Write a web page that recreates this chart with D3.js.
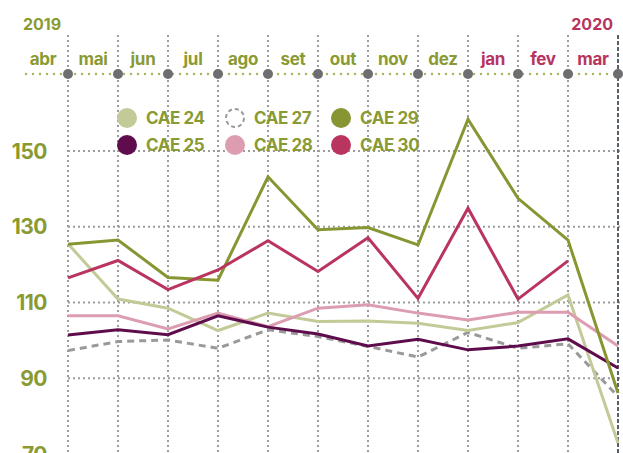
<!DOCTYPE html>
<html>
<head>
<meta charset="utf-8">
<script src="https://cdn.jsdelivr.net/npm/d3@7"></script>
<style>
  html, body { margin: 0; padding: 0; background: #fff; }
  svg { display: block; font-family: Inter, "Open Sans", sans-serif; font-weight: 700; }
</style>
</head>
<body>
<div id="chart"></div>
<script>
var months = ['abr', 'mai', 'jun', 'jul', 'ago', 'set', 'out', 'nov', 'dez', 'jan', 'fev', 'mar'];
var yTicks = [70, 90, 110, 130, 150];

var cae24 = [125.5, 110.9, 108.5, 102.6, 107.2, 105.0, 105.1, 104.5, 102.6, 104.7, 112.0, 72.9];
var cae25 = [101.4, 102.8, 101.5, 106.5, 103.5, 101.7, 98.5, 100.3, 97.5, 98.5, 100.4, 92.7];
var cae27 = [97.3, 99.7, 100.1, 97.9, 102.8, 101.0, 98.4, 95.6, 102.1, 97.9, 99.1, 85.2];
var cae28 = [106.5, 106.5, 103.0, 107.2, 103.6, 108.5, 109.4, 107.2, 105.4, 107.4, 107.4, 98.5];
var cae29 = [125.4, 126.5, 116.6, 115.9, 143.2, 129.2, 129.8, 125.2, 158.4, 137.5, 126.5, 86.1];
var cae30 = [116.5, 121.1, 113.4, 118.6, 126.3, 118.2, 127.1, 111.1, 134.9, 110.9, 121.0, null];

(function () {
  var W = 623, H = 453;
  var olive = '#8a9a33', crimson = '#b8345f', gridGrey = '#9c9c9c';

  var series = [
    { name: 'CAE 27', values: cae27, color: '#9a9a9a', dash: '7,5' },
    { name: 'CAE 24', values: cae24, color: '#c4ca97' },
    { name: 'CAE 28', values: cae28, color: '#dd9db0' },
    { name: 'CAE 25', values: cae25, color: '#5f0c4c' },
    { name: 'CAE 29', values: cae29, color: '#879633' },
    { name: 'CAE 30', values: cae30, color: '#b9345f' }
  ];
  var byName = {};
  series.forEach(function (s) { byName[s.name] = s; });

  var svg = d3.select('#chart').append('svg')
    .attr('width', W).attr('height', H);

  var x = d3.scalePoint().domain(months).range([68, 618]);
  var y = d3.scaleLinear().domain([70, 150]).range([454, 151]);

  // horizontal grid
  svg.append('g').selectAll('line')
    .data(yTicks)
    .enter().append('line')
    .attr('x1', 68).attr('x2', W)
    .attr('y1', function (d) { return y(d); })
    .attr('y2', function (d) { return y(d); })
    .attr('stroke', gridGrey).attr('stroke-width', 2)
    .attr('stroke-dasharray', '2,3');

  // vertical grid (last one darker)
  svg.append('g').selectAll('line')
    .data(months)
    .enter().append('line')
    .attr('x1', function (d) { return x(d); })
    .attr('x2', function (d) { return x(d); })
    .attr('y1', 35).attr('y2', H)
    .attr('stroke', function (d, i) { return i === months.length - 1 ? '#55606b' : gridGrey; })
    .attr('stroke-width', 2)
    .attr('stroke-dasharray', function (d, i) { return i === months.length - 1 ? '4,2' : '2,3'; });

  // y labels
  svg.append('g').selectAll('text')
    .data(yTicks)
    .enter().append('text')
    .attr('x', 47)
    .attr('y', function (d) { return y(d); })
    .attr('dy', '0.36em')
    .attr('text-anchor', 'end')
    .attr('fill', olive)
    .style('font-size', '21px')
    .style('letter-spacing', '-0.5px')
    .text(function (d) { return d; });

  // timeline header
  svg.append('line')
    .attr('x1', 26).attr('x2', W)
    .attr('y1', 74).attr('y2', 74)
    .attr('stroke', '#aab55f').attr('stroke-width', 2.5)
    .attr('stroke-linecap', 'round')
    .attr('stroke-dasharray', '0,7');

  svg.append('g').selectAll('circle')
    .data(months)
    .enter().append('circle')
    .attr('cx', function (d) { return x(d); })
    .attr('cy', 74)
    .attr('r', 5)
    .attr('fill', '#6e6e70');

  svg.append('g').selectAll('text')
    .data(months)
    .enter().append('text')
    .attr('x', function (d) { return x(d) - 25; })
    .attr('y', 65)
    .attr('text-anchor', 'middle')
    .attr('fill', function (d, i) { return i >= 9 ? crimson : olive; })
    .style('font-size', '17px')
    .style('letter-spacing', '-0.3px')
    .text(function (d) { return d; });

  svg.append('text')
    .attr('x', 23).attr('y', 30)
    .attr('fill', olive)
    .style('font-size', '16px')
    .text('2019');
  svg.append('text')
    .attr('x', 613).attr('y', 30)
    .attr('text-anchor', 'end')
    .attr('fill', crimson)
    .style('font-size', '16px')
    .text('2020');

  // lines
  var line = d3.line()
    .defined(function (d) { return d != null; })
    .x(function (d, i) { return x(months[i]); })
    .y(function (d) { return y(d); });

  svg.append('g').selectAll('path')
    .data(series)
    .enter().append('path')
    .attr('d', function (s) { return line(s.values); })
    .attr('fill', 'none')
    .attr('stroke', function (s) { return s.color; })
    .attr('stroke-width', 3)
    .attr('stroke-linejoin', 'miter')
    .attr('stroke-dasharray', function (s) { return s.dash || null; });

  // legend
  var legendRows = [['CAE 24', 'CAE 27', 'CAE 29'], ['CAE 25', 'CAE 28', 'CAE 30']];
  var colX = [127, 235, 341];
  var rowY = [118, 145];
  var legend = svg.append('g');
  legendRows.forEach(function (row, r) {
    row.forEach(function (name, c) {
      var s = byName[name];
      var cx = colX[c], cy = rowY[r];
      if (s.dash) {
        legend.append('circle')
          .attr('cx', cx).attr('cy', cy).attr('r', 9)
          .attr('fill', '#fff')
          .attr('stroke', s.color).attr('stroke-width', 2)
          .attr('stroke-dasharray', '4,3');
      } else {
        legend.append('circle')
          .attr('cx', cx).attr('cy', cy).attr('r', 10)
          .attr('fill', s.color);
      }
      legend.append('text')
        .attr('x', cx + 19).attr('y', cy)
        .attr('dy', '0.36em')
        .attr('fill', olive)
        .style('font-size', '17px')
        .style('letter-spacing', '-0.4px')
        .text(name);
    });
  });
})();
</script>
</body>
</html>
